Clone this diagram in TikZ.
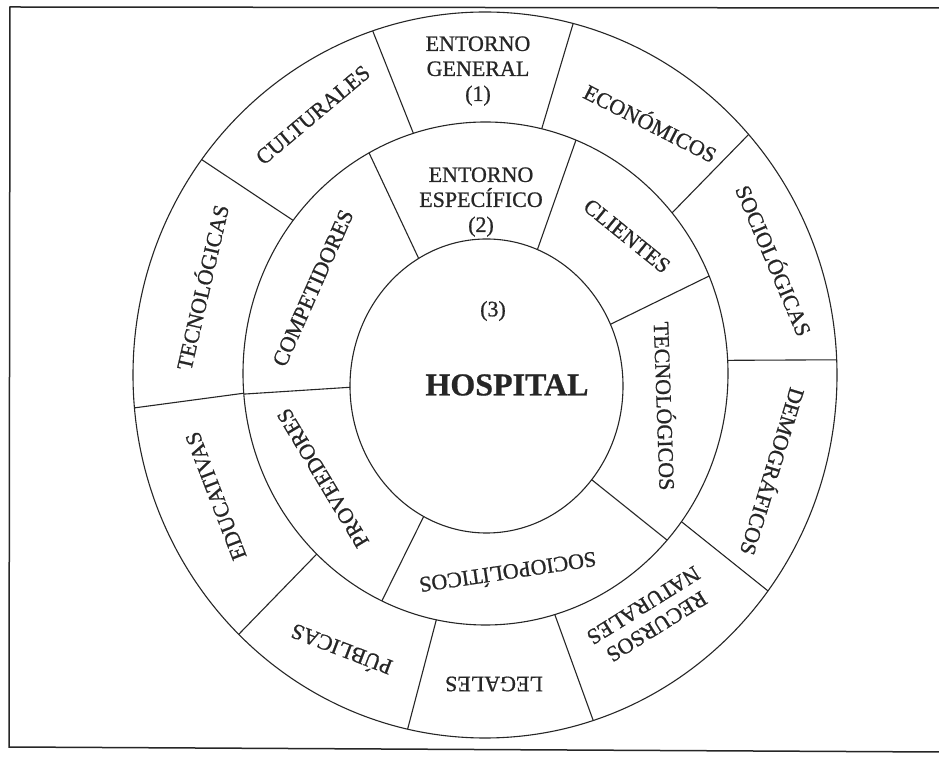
\documentclass[tikz,border=0pt]{standalone}
\usepackage{fontspec}
\setmainfont{Liberation Serif}[FakeBold=0.6]
\newfontfamily\labfont{Liberation Serif}[AutoFakeBold=0.8]
\usetikzlibrary{calc}
\definecolor{ink}{HTML}{262626}
\tikzset{
  ring/.style={draw=ink, line width=1.1pt},
  frameline/.style={draw=ink, line width=1.5pt},
  lab/.style={text=ink, font=\labfont\bfseries\fontsize{22}{25}\selectfont, align=center, inner sep=0pt},
  core/.style={text=ink, font=\bfseries\fontsize{32}{36}\selectfont, inner sep=0pt}
}
\begin{document}
\begin{tikzpicture}[x=1pt,y=1pt]
\useasboundingbox (0,0) rectangle (939,757);
\fill[white] (0,0) rectangle (939,757);

% open frame (left, top, bottom)
\draw[frameline] (939,749) -- (10,750) -- (9,10) -- (939,5);

% ring centres
\coordinate (cO) at (485,382);
\coordinate (cM) at (485.5,383.5);
\coordinate (cI) at (486.5,371);

% the three rings
\draw[ring] (cO) ellipse [x radius=352pt, y radius=363pt];
\draw[ring] (cM) ellipse [x radius=242.5pt, y radius=251.5pt];
\draw[ring] (cI) ellipse [x radius=136.5pt, y radius=147pt];

% dividers of the outer ring (general environment)
\foreach \a/\b [count=\i] in {107.3/108.6, 76.6/75.5, 39.7/41.5, 3/2.4,
    -36.1/-36.5, -73.4/-72.1, -101.7/-102.7, -134.1/-134.4, -175.5/-174.8, 142.5/143.6}{
  \coordinate (m\i) at ($(cM)+(\a:242.5pt and 251.5pt)$);
  \coordinate (o\i) at ($(cO)+(\b:352pt and 363pt)$);
  \draw[ring] (m\i) -- (o\i);
}

% dividers of the middle ring (specific environment)
\foreach \a/\b [count=\i] in {119.8/118.7, 68.1/68.1, 24.8/22.8, -39.6/-41.5,
    -117.4/-115.3, 180.5/-175.3}{
  \coordinate (i\i) at ($(cI)+(\a:136.5pt and 147pt)$);
  \coordinate (n\i) at ($(cM)+(\b:242.5pt and 251.5pt)$);
  \draw[ring] (i\i) -- (n\i);
}

% centre
\node[lab] (tres) at (493,446) {(3)};
\node[core] (hosp) at (507,372) {HOSPITAL};

% headings
\node[lab] (gen) at (478,686) {ENTORNO\\GENERAL\\(1)};
\node[lab] (esp) at (481,555) {ENTORNO\\ESPECÍFICO\\(2)};

% outer ring labels
\node[lab, rotate=-27]    (eco) at (651,635) {ECONÓMICOS};
\node[lab, rotate=-67]    (soc) at (775,497) {SOCIOLÓGICAS};
\node[lab, rotate=-107]   (dem) at (774,285) {DEMOGRÁFICOS};
\node[lab, rotate=-148]   (rec) at (650,141) {RECURSOS\\NATURALES};
\node[lab, rotate=180]    (leg) at (494,73)  {LEGALES};
\node[lab, rotate=159]    (pub) at (341,106) {PÚBLICAS};
\node[lab, rotate=111]    (edu) at (216,261) {EDUCATIVAS};
\node[lab, rotate=77]     (tca) at (201,470) {TECNOLÓGICAS};
\node[lab, rotate=40]     (cul) at (313,642) {CULTURALES};

% middle ring labels
\node[lab, rotate=-39]    (cli) at (627,521) {CLIENTES};
\node[lab, rotate=-88]    (tco) at (666,351) {TECNOLÓGICOS};
\node[lab, rotate=-171.5] (spo) at (508,183) {SOCIOPOLÍTICOS};
\node[lab, rotate=121]    (pro) at (323,279) {PROVEEDORES};
\node[lab, rotate=66]     (com) at (313,469) {COMPETIDORES};
\end{tikzpicture}
\end{document}
